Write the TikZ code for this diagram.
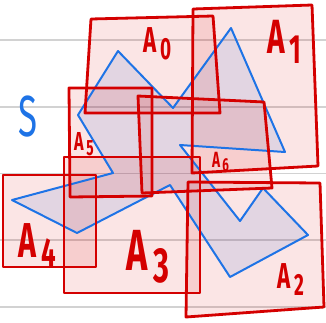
\documentclass[tikz,border=0pt]{standalone}
\usepackage{fontspec}
\setmainfont{Fira Sans}
\definecolor{rojo}{RGB}{212,0,0}
\definecolor{azul}{RGB}{30,115,230}
\newcommand{\subi}[1]{\,\raisebox{-0.22em}{\scalebox{0.85}{#1}}}

\begin{document}
\begin{tikzpicture}[x=1pt, y=-1pt,
    renglon/.style={draw=gray!35, line width=1.3pt},
    relleno/.style={fill=rojo, fill opacity=0.1},
    borde/.style={draw=rojo, line width=2.8pt, line join=round},
    etiqueta/.style={text=rojo, anchor=base west, xscale=0.62, inner sep=0pt}]
        \useasboundingbox (0,0) rectangle (326,322);

        % Renglones del papel
        \foreach \y in {40,107,173.5,240,307}
            \draw[renglon] (0,\y) -- (326,\y);

        % Conjunto S (relleno)
        \fill[azul, fill opacity=0.12] (78,115) -- (118,51) -- (173,108) -- (231,28) -- (285,152)
            -- (180,145) -- (240,221) -- (263,188) -- (308,235) -- (230,277) -- (170,185)
            -- (77,233) -- (12,200) -- (113,173) -- cycle;

        % Rellenos de los rectangulos A_i
        \fill[relleno] (91,19) -- (213,16) -- (220,113) -- (85,113) -- cycle;
        \fill[relleno] (193,9) -- (312,5) -- (318,166) -- (192,173) -- cycle;
        \fill[relleno] (188,182) -- (320,183) -- (324,307) -- (186,317) -- cycle;
        \fill[relleno] (64,157) -- (200,157) -- (200,293) -- (64,293) -- cycle;
        \fill[relleno] (3,175) -- (96,175) -- (96,267) -- (3,267) -- cycle;
        \fill[relleno] (69,88) -- (152,88) -- (152,196) -- (70,197) -- cycle;
        \fill[relleno] (138,96) -- (264,102) -- (272,188) -- (142,193) -- cycle;

        % Contorno de S
        \draw[azul, line width=2pt, line join=round] (78,115) -- (118,51) -- (173,108) -- (231,28)
            -- (285,152) -- (180,145) -- (240,221) -- (263,188) -- (308,235) -- (230,277)
            -- (170,185) -- (77,233) -- (12,200) -- (113,173) -- cycle;

        % Bordes de los rectangulos
        \draw[borde] (91,19) -- (213,16) -- (220,113) -- (85,113) -- cycle;
        \draw[borde] (193,9) -- (312,5) -- (318,166) -- (192,173) -- cycle;
        \draw[borde] (188,182) -- (320,183) -- (324,307) -- (186,317) -- cycle;
        \draw[borde] (64,157) -- (200,157) -- (200,293) -- (64,293) -- cycle;
        \draw[borde] (3,175) -- (96,175) -- (96,267) -- (3,267) -- cycle;
        \draw[borde] (69,88) -- (152,88) -- (152,196) -- (70,197) -- cycle;
        \draw[borde] (138,96) -- (264,102) -- (272,188) -- (142,193) -- cycle;

        % Etiquetas
        \node[text=azul, xscale=0.6, font=\fontsize{58}{58}\selectfont] (s) at (28,117) {S};
        \node[etiqueta, font=\bfseries\fontsize{36}{36}\selectfont] (a0) at (143,52) {A\subi{0}};
        \node[etiqueta, font=\bfseries\fontsize{48}{48}\selectfont] (a1) at (267,53) {A\subi{1}};
        \node[etiqueta, font=\bfseries\fontsize{36}{36}\selectfont] (a2) at (277,288) {A\subi{2}};
        \node[etiqueta, font=\bfseries\fontsize{58}{58}\selectfont] (a3) at (126,270) {A\subi{3}};
        \node[etiqueta, font=\bfseries\fontsize{49}{49}\selectfont] (a4) at (18,257) {A\subi{4}};
        \node[etiqueta, font=\bfseries\fontsize{26}{26}\selectfont] (a5) at (74,150) {A\subi{5}};
        \node[etiqueta, font=\bfseries\fontsize{22}{22}\selectfont] (a6) at (212,167) {A\subi{6}};

    \end{tikzpicture}
\end{document}
